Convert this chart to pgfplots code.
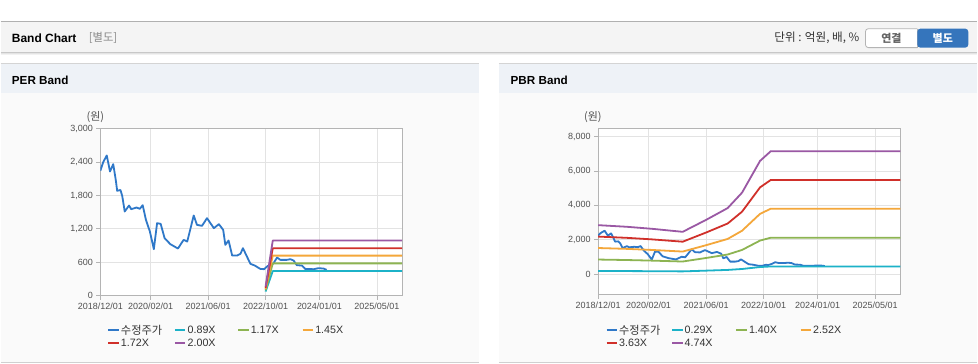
\documentclass[border=0pt]{standalone}
\usepackage{pgfplots}
\pgfplotsset{compat=1.18}
\usepackage{pgfplotstable}
\usepackage{fontspec}
\setmainfont{Liberation Sans}
\newfontfamily\kr{Noto Sans CJK KR}
\definecolor{cPrice}{HTML}{2F78C8}
\definecolor{cA}{HTML}{1CB2C8}
\definecolor{cB}{HTML}{8DB452}
\definecolor{cC}{HTML}{F4A73A}
\definecolor{cD}{HTML}{D0302A}
\definecolor{cE}{HTML}{9A58A4}
\definecolor{gridc}{HTML}{E3E3E3}
\definecolor{framec}{HTML}{B4B4B4}
\definecolor{tickc}{HTML}{505050}
\definecolor{legc}{HTML}{333333}
\definecolor{panelhead}{HTML}{EEF2F7}
\definecolor{panelbody}{HTML}{FAFAFA}
\definecolor{headbg}{HTML}{F4F4F4}
\definecolor{btnblue}{HTML}{3575BC}

% adjusted price (months since 2018/12/01)
\pgfplotstableread{
m v
0 2244
0.8 2400
1.8 2520
2.7 2232
3.6 2364
4.3 2082
4.7 1884
5.6 1900
6.1 1794
6.8 1512
8 1620
8.6 1554
10.1 1584
11 1560
11.8 1626
12.7 1362
13.8 1152
14.9 834
15.8 1302
16.8 1290
17.9 1032
19.5 924
21.6 846
23.2 1002
24.2 972
26 1440
26.9 1272
28.3 1254
29.7 1392
31.6 1212
33 1284
34.2 1182
34.8 912
35.7 990
36.7 720
38.1 720
39 750
39.7 852
40.8 702
41.8 570
43 540
44.5 480
45.6 474
46.6 534
47.3 522
48.2 582
49.2 684
50.1 642
51.9 642
52.9 654
53.8 630
54.7 546
56.1 540
57 480
59.4 474
60.7 492
62.1 486
63 462
}\pricetab

% PBR bands
\pgfplotstableread{
m a b c d e
0 174 840 1512 2178 2844
8 168 812 1462 2105 2749
15 161 777 1399 2015 2631
23.5 150 725 1305 1880 2455
30 193 931 1676 2414 3152
36 235 1134 2041 2940 3839
40 290 1400 2520 3630 4740
45 403 1946 3503 5046 6589
48 438 2114 3805 5481 7157
84 438 2114 3805 5481 7157
}\pbrtab

% PER bands
\pgfplotstableread{
m a b c d e
46 72 95 117 139 162
48 441 579 718 851 990
84 441 579 718 851 990
}\pertab

\pgfplotsset{
  bandaxis/.style={
    scale only axis, anchor=south west,
    xmin=0, xmax=84,
    xtick={0,14,30,46,61,77},
    xticklabels={2018/12/01,2020/02/01,2021/06/01,2022/10/01,2024/01/01,2025/05/01},
    grid=major, major grid style={draw=gridc, line width=0.9pt},
    axis line style={draw=framec, line width=0.9pt},
    every tick/.style={draw=framec, line width=0.9pt},
    tick align=outside, major tick length=4pt,
    xtick pos=bottom, ytick pos=left,
    tick label style={font=\fontsize{9}{10}\selectfont, text=tickc},
    scaled y ticks=false,
    /pgf/number format/assume math mode=true,
    /pgf/number format/1000 sep={,},
    axis background/.style={fill=white},
    every axis plot/.append style={line width=1.8pt, mark=none, line join=round},
  }
}

\newcommand\legitem[4]{%
  \draw[#3, line width=2.2pt] (#1,#2) -- ++(10.5,0);
  \node[anchor=west, inner sep=0, text=legc, font=\fontsize{10.7}{12}\selectfont] at (#1+12.5,#2) {#4};
}

\begin{document}
\begin{tikzpicture}[x=1pt,y=1pt]
% canvas
\fill[white] (0,0) rectangle (978,364);
% top header
\fill[headbg] (0,311) rectangle (978,341.5);
\draw[color={rgb,255:red,176;green,176;blue,176}, line width=1pt] (0,342) -- (978,342);
\draw[color={rgb,255:red,200;green,200;blue,200}, line width=1pt] (0,311) -- (978,311);
\draw[color={rgb,255:red,228;green,228;blue,228}, line width=1pt] (0,310) -- (978,310);
\draw[color={rgb,255:red,242;green,242;blue,242}, line width=1pt] (0,309) -- (978,309);
\node[anchor=west, inner sep=0, font=\fontsize{12}{14}\selectfont\bfseries] at (11,325.7) {Band Chart};
\node[anchor=west, inner sep=0, text={rgb,255:red,136;green,136;blue,136}, font=\kr\fontsize{11.3}{13}\selectfont] at (88,325.7) {[별도]};
\node[anchor=east, inner sep=0, text=legc, font=\kr\fontsize{11.6}{13}\selectfont] at (860,325.7) {단위 : 억원, 배, \%};
% buttons
\draw[fill=white, draw={rgb,255:red,180;green,180;blue,180}, line width=0.8pt, rounded corners=3pt]
  (918,316.3) -- (866,316.3) -- (866,335.3) -- (918,335.3);
\draw[draw={rgb,255:red,180;green,180;blue,180}, line width=0.8pt] (918,316.3) -- (918,335.3);
\fill[btnblue, rounded corners=3pt] (918,316.3) -- (969,316.3) -- (969,335.3) -- (918,335.3) -- cycle;
\node[inner sep=0, text={rgb,255:red,100;green,100;blue,100}, font=\kr\fontsize{11}{13}\selectfont\bfseries] at (892,325.8) {연결};
\node[inner sep=0, text=white, font=\kr\fontsize{11}{13}\selectfont\bfseries] at (943.5,325.8) {별도};
% panels
\foreach \px in {0,499} {
  \fill[panelbody] (\px,1.5) rectangle (\px+479,271);
  \fill[panelhead] (\px,271) rectangle (\px+479,299.5);
  \draw[color={rgb,255:red,212;green,212;blue,212}, line width=1pt] (\px,300) -- (\px+479,300);
  \draw[color={rgb,255:red,208;green,208;blue,208}, line width=1.5pt] (\px,1) -- (\px+479,1);
}
\node[anchor=west, inner sep=0, font=\fontsize{11.7}{14}\selectfont\bfseries] at (11,284) {PER Band};
\node[anchor=west, inner sep=0, font=\fontsize{11.7}{14}\selectfont\bfseries] at (510.5,284) {PBR Band};

% PER axis
\begin{axis}[bandaxis, at={(99.7pt,68pt)}, width=302.3pt, height=167pt,
  ymin=0, ymax=3000, ytick={0,600,...,3000}]
\addplot[cPrice] table[x=m,y=v]{\pricetab};
\addplot[cA] table[x=m,y=a]{\pertab};
\addplot[cB] table[x=m,y=b]{\pertab};
\addplot[cC] table[x=m,y=c]{\pertab};
\addplot[cD] table[x=m,y=d]{\pertab};
\addplot[cE] table[x=m,y=e]{\pertab};
\end{axis}

% PBR axis
\begin{axis}[bandaxis, at={(598.3pt,69pt)}, width=302.7pt, height=166.7pt,
  ymin=-1200, ymax=8500, ytick={0,2000,...,8000}]
\addplot[cPrice] table[x=m,y=v]{\pricetab};
\addplot[cA] table[x=m,y=a]{\pbrtab};
\addplot[cB] table[x=m,y=b]{\pbrtab};
\addplot[cC] table[x=m,y=c]{\pbrtab};
\addplot[cD] table[x=m,y=d]{\pbrtab};
\addplot[cE] table[x=m,y=e]{\pbrtab};
\end{axis}

% unit labels
\node[inner sep=0, text=tickc, font=\kr\fontsize{11}{12}\selectfont] at (94.7,246.7) {(원)};
\node[inner sep=0, text=tickc, font=\kr\fontsize{11}{12}\selectfont] at (593,246.7) {(원)};

% legends
\legitem{107.7}{33.3}{cPrice}{\kr\fontsize{11.2}{12}\selectfont 수정주가}
\legitem{174.5}{33.3}{cA}{0.89X}
\legitem{237.7}{33.3}{cB}{1.17X}
\legitem{302.3}{33.3}{cC}{1.45X}
\legitem{107.7}{20.7}{cD}{1.72X}
\legitem{174.5}{20.7}{cE}{2.00X}

\legitem{606.7}{33.3}{cPrice}{\kr\fontsize{11.2}{12}\selectfont 수정주가}
\legitem{672.3}{33.3}{cA}{0.29X}
\legitem{736.7}{33.3}{cB}{1.40X}
\legitem{801}{33.3}{cC}{2.52X}
\legitem{606.7}{20.7}{cD}{3.63X}
\legitem{672.3}{20.7}{cE}{4.74X}
\end{tikzpicture}
\end{document}
